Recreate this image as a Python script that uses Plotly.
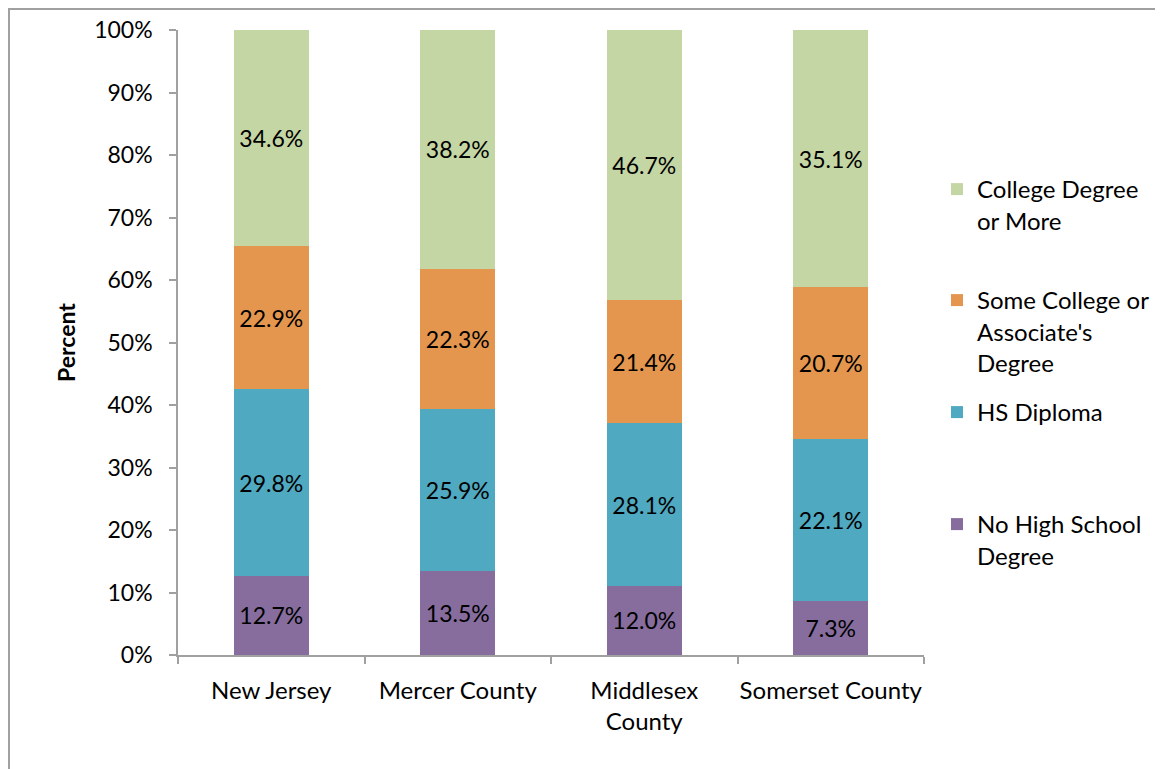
import plotly.graph_objects as go

# Educational attainment by area (raw shares, bars are normalised to 100%)
areas = ["New Jersey", "Mercer County", "Middlesex<br>County", "Somerset County"]
no_hs = [12.7, 13.5, 12.0, 7.3]
hs_diploma = [29.8, 25.9, 28.1, 22.1]
some_college = [22.9, 22.3, 21.4, 20.7]
college_plus = [34.6, 38.2, 46.7, 35.1]

series_names = [
    "No High School<br>Degree",
    "HS Diploma",
    "Some College or<br>Associate's<br>Degree",
    "College Degree<br>or More",
]
series_values = [no_hs, hs_diploma, some_college, college_plus]
colors = ["#866D9E", "#4FA9C0", "#E4964E", "#C4D6A4"]

y_ticks = list(range(0, 101, 10))
y_ticktext = [f"{v}%" for v in y_ticks]

FONT = "Lato, Calibri, 'Open Sans', sans-serif"

# the page body adds an 8px offset, so the figure is drawn 8px smaller
W, H = 1155, 761
L, R, T, B = 170, 239, 22, 114
plot_w = W - L - R
plot_h = H - T - B

def py(px_y):
    # figure pixel row -> paper y
    return (H - B - px_y) / plot_h

def px(px_x):
    return (px_x - L) / plot_w

legend_keys = ["legend4", "legend3", "legend2", "legend"]
legend_tops = [494, 382, 270, 159]  # figure pixel rows of each legend box

fig = go.Figure()
for name, vals, col, lk in zip(series_names, series_values, colors, legend_keys):
    fig.add_trace(go.Bar(
        x=areas,
        y=vals,
        name=name,
        marker=dict(color=col, line=dict(width=0)),
        text=[f"{v:.1f}%" for v in vals],
        textposition="inside",
        insidetextanchor="middle",
        textangle=0,
        constraintext="none",
        textfont=dict(size=23, color="black", family=FONT),
        legend=lk,
    ))

layout_legends = {}
for lk, top in zip(legend_keys, legend_tops):
    layout_legends[lk] = dict(
        x=px(929),
        xanchor="left",
        y=py(top),
        yanchor="top",
        valign="top",
        font=dict(size=24, color="black", family=FONT),
        bgcolor="rgba(0,0,0,0)",
    )

fig.update_layout(
    width=W,
    height=H,
    margin=dict(l=L, r=R, t=T, b=B, autoexpand=False),
    barmode="stack",
    barnorm="percent",
    bargap=0.6,
    plot_bgcolor="white",
    paper_bgcolor="white",
    font=dict(family=FONT, size=24, color="black"),
    showlegend=True,
    **layout_legends,
    xaxis=dict(
        showline=True,
        linecolor="#A0A0A0",
        linewidth=1.5,
        ticks="outside",
        tickson="boundaries",
        ticklen=7,
        tickcolor="#A0A0A0",
        tickwidth=1.5,
        tickangle=0,
        automargin=False,
        ticklabelstandoff=13,
        showgrid=False,
        tickfont=dict(size=24),
    ),
    yaxis=dict(
        range=[0, 100],
        tickmode="array",
        tickvals=y_ticks,
        ticktext=y_ticktext,
        showline=True,
        linecolor="#A0A0A0",
        linewidth=1.5,
        ticks="outside",
        ticklen=7,
        tickcolor="#A0A0A0",
        tickwidth=1.5,
        ticklabelstandoff=12,
        automargin=False,
        showgrid=False,
        zeroline=False,
        tickfont=dict(size=23),
        title=dict(text="<b>Percent</b>", font=dict(size=23), standoff=12),
    ),
)

# chart-area border (only top and left edges fall inside the picture)
fig.add_shape(
    type="rect", xref="paper", yref="paper",
    x0=px(1), x1=1.6,
    y0=-0.5, y1=py(1),
    line=dict(color="#A0A0A0", width=2),
    fillcolor="rgba(0,0,0,0)",
    layer="below",
)

fig.write_html("out.html")
